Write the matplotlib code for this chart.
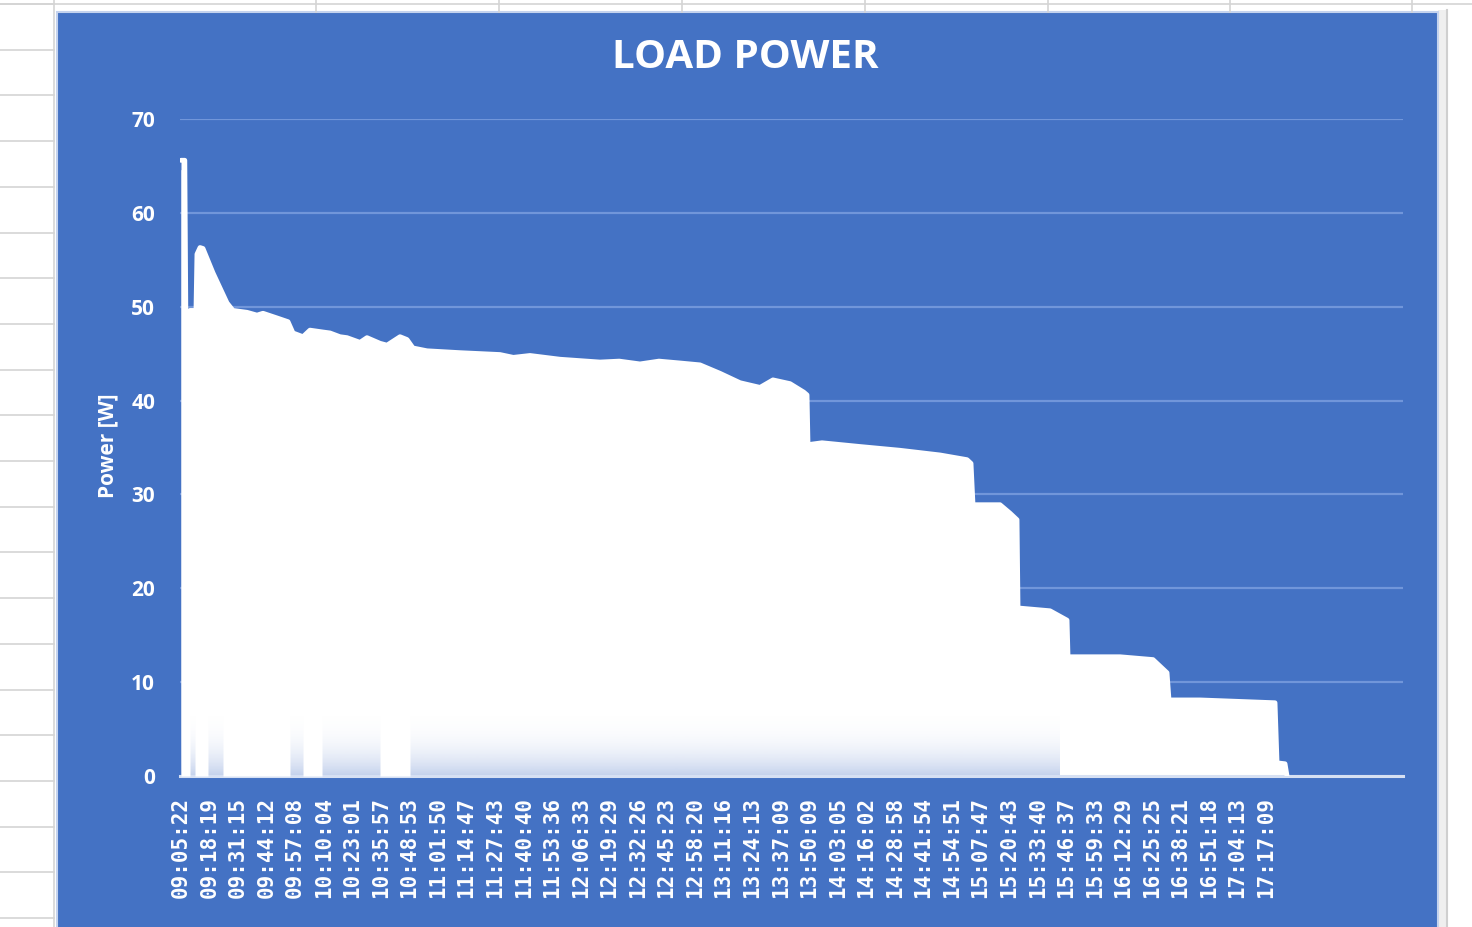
import numpy as np
import matplotlib
matplotlib.use("Agg")
import matplotlib.pyplot as plt
from matplotlib.patches import Rectangle
from matplotlib.colors import to_rgb

# ---- data ----
env_times = ["09:05:22", "09:07:05", "09:07:40", "09:09:10", "09:09:27", "09:12:10",
             "09:12:37", "09:14:00", "09:15:20", "09:19:52", "09:26:13", "09:28:56",
             "09:35:17", "09:39:49", "09:42:32", "09:48:53", "09:53:52", "09:56:08",
             "10:00:40", "10:03:50", "10:09:44", "10:12:54", "10:17:26", "10:20:36",
             "10:26:30", "10:29:40", "10:35:34", "10:38:44", "10:44:38", "10:47:48",
             "10:50:31", "10:56:52", "11:11:49", "11:29:57", "11:36:00", "11:43:33",
             "11:57:09", "12:15:17", "12:24:00", "12:33:24", "12:42:00", "12:51:32",
             "13:00:36", "13:09:40", "13:18:44", "13:27:48", "13:33:41", "13:41:24",
             "13:47:37", "13:49:06", "13:49:33", "13:55:54", "14:13:07", "14:31:15",
             "14:49:23", "15:01:37", "15:03:26", "15:04:20", "15:16:35", "15:21:07",
             "15:24:17", "15:24:44", "15:39:14", "15:46:57", "15:47:24", "16:10:58",
             "16:25:55", "16:32:16", "16:33:10", "16:47:14", "17:21:13", "17:22:08",
             "17:25:45", "17:26:40"]
env_power = [65.6, 65.6, 45.3, 45.3, 49.6, 49.6,
             55.6, 56.3, 56.2, 53.6, 50.4, 49.6,
             49.4, 49.1, 49.3, 48.8, 48.4, 47.2,
             46.8, 47.5, 47.3, 47.2, 46.8, 46.7,
             46.2, 46.7, 46.1, 45.9, 46.8, 46.5,
             45.6, 45.3, 45.1, 44.9, 44.6, 44.8,
             44.4, 44.1, 44.2, 43.9, 44.2, 44.0,
             43.8, 42.9, 41.9, 41.4, 42.2, 41.8,
             40.9, 40.6, 35.3, 35.5, 35.1, 34.7,
             34.2, 33.7, 33.3, 28.9, 28.9, 28.0,
             27.3, 17.9, 17.6, 16.6, 12.7, 12.7,
             12.4, 11.0, 8.1, 8.1, 7.8, 1.4,
             1.3, 0.0]

# stretches where the samples stay high (solid white down to zero)
solid_start = ["09:05:22", "09:11:43", "09:24:24", "10:00:40", "10:35:34"]
solid_end = ["09:09:27", "09:17:36", "09:54:46", "10:09:17", "10:49:10"]
fade_end = "15:43:46"

tick_labels = ["09:05:22", "09:18:19", "09:31:15", "09:44:12", "09:57:08", "10:10:04",
               "10:23:01", "10:35:57", "10:48:53", "11:01:50", "11:14:47", "11:27:43",
               "11:40:40", "11:53:36", "12:06:33", "12:19:29", "12:32:26", "12:45:23",
               "12:58:20", "13:11:16", "13:24:13", "13:37:09", "13:50:09", "14:03:05",
               "14:16:02", "14:28:58", "14:41:54", "14:54:51", "15:07:47", "15:20:43",
               "15:33:40", "15:46:37", "15:59:33", "16:12:29", "16:25:25", "16:38:21",
               "16:51:18", "17:04:13", "17:17:09"]
axis_end = "18:19:14"


def secs(s):
    h, m, x = s.split(":")
    return int(h) * 3600 + int(m) * 60 + int(x)


t0 = secs(tick_labels[0])
t = np.array([secs(s) - t0 for s in env_times], dtype=float)
p = np.array(env_power)
ticks = [secs(s) - t0 for s in tick_labels]

BLUE = "#4472C4"
GRID = "#7196DA"

fig = plt.figure(figsize=(14.72, 9.27), dpi=100)

# spreadsheet behind the chart (pixel coordinates)
bg = fig.add_axes([0, 0, 1, 1])
bg.set_xlim(0, 1472)
bg.set_ylim(927, 0)
bg.axis("off")
for k in range(21):
    y = 4 + 45.7 * k
    bg.plot([0, 54], [y, y], color="#D4D4D4", lw=1.2)
bg.plot([0, 1472], [4, 4], color="#D4D4D4", lw=1.2)
bg.plot([54, 54], [0, 927], color="#D4D4D4", lw=1.2)
for x in [316, 499, 682, 865, 1048, 1230, 1412]:
    bg.plot([x, x], [0, 12], color="#D4D4D4", lw=1.2)
bg.add_patch(Rectangle((1438, 10), 9, 917, facecolor="#EFEFEF", edgecolor="none"))
bg.plot([1447, 1447], [10, 927], color="#CFCFCF", lw=1.5)
bg.add_patch(Rectangle((57, 12), 1381, 930, facecolor=BLUE, edgecolor="#C5D3EE", lw=1.5))

# chart
ax = fig.add_axes([180 / 1472, 1 - 776 / 927, (1403 - 180) / 1472, (776 - 119) / 927])
ax.set_facecolor("none")
ax.set_xlim(-27, secs(axis_end) - t0)
ax.set_ylim(0, 70)
ax.set_yticks(range(0, 71, 10))
ax.grid(axis="y", color=GRID, lw=1.6)
ax.set_axisbelow(True)
for side in ["top", "right", "left"]:
    ax.spines[side].set_visible(False)
ax.spines["bottom"].set_color("#D6E0F3")
ax.spines["bottom"].set_linewidth(2.2)

fill = ax.fill_between(t, 0, p, color="white", lw=0, zorder=2)
ax.plot(t, p, color="white", lw=3.5, solid_joinstyle="round", solid_capstyle="round", zorder=3)

# faint bluish fade near the baseline
grad = np.zeros((100, 1, 4))
grad[:, 0, :3] = to_rgb("#6A8CD0")
grad[:, 0, 3] = 0.4 * (1 - np.linspace(0, 1, 100)) ** 3
img = ax.imshow(grad, extent=[0, secs(fade_end) - t0, 0, 8], origin="lower",
                aspect="auto", zorder=2.5, interpolation="bilinear")
img.set_clip_path(fill.get_paths()[0], transform=ax.transData)
for a, b in zip(solid_start, solid_end):
    xs = np.linspace(secs(a) - t0, secs(b) - t0, 20)
    ax.fill_between(xs, 0, np.interp(xs, t, p) - 1, color="white", lw=0, zorder=2.7)

ax.set_xticks(ticks)
ax.set_xticklabels(tick_labels, rotation=90, family="DejaVu Sans Mono", fontsize=15,
                   fontweight="bold", color="white")
ax.tick_params(axis="x", length=0, pad=15)
ax.tick_params(axis="y", length=0, pad=18, colors="white")
for lab in ax.get_yticklabels():
    lab.set_fontfamily("Open Sans")
    lab.set_fontweight("bold")
    lab.set_fontsize(15)

fig.text(745 / 1472, 1 - 58 / 927, "LOAD POWER", ha="center", va="center",
         fontsize=29, fontweight="bold", color="white", family="Open Sans")
fig.text(108 / 1472, 1 - 446 / 927, "Power [W]", ha="center", va="center", rotation=90,
         fontsize=15, fontweight="bold", color="white", family="Open Sans")

fig.savefig("out.png", dpi=100)
